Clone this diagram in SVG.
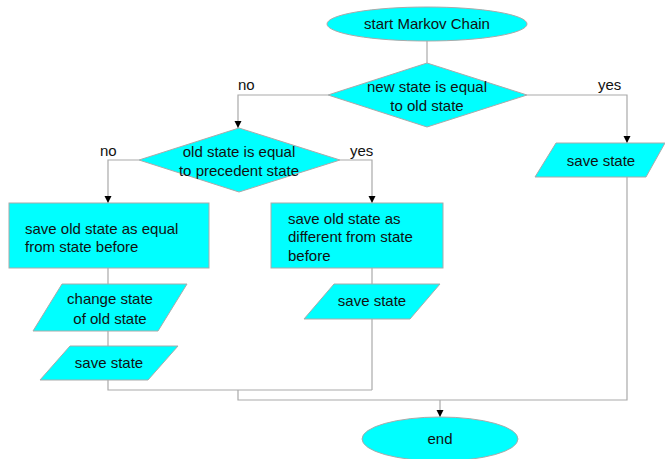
<svg xmlns="http://www.w3.org/2000/svg" width="665" height="459" viewBox="0 0 665 459">
<defs>
<style>
.n{fill:#00ffff;stroke:#aaaaaa;stroke-width:1}
.t{font-family:"Liberation Sans",Arial,sans-serif;font-size:15px;fill:#111}
.c{fill:none;stroke:#aaaaaa;stroke-width:1.2}
.m{text-anchor:middle}
</style>
<marker id="ah" viewBox="0 0 10 10" refX="10" refY="5" markerWidth="7" markerHeight="10" markerUnits="userSpaceOnUse" orient="auto">
<path d="M0,0 L10,5 L0,10 z" fill="#000"/>
</marker>
</defs>
<rect width="665" height="459" fill="#fff"/>
<g id="connectors">
<path class="c" d="M427,41 V63"/>
<path class="c" d="M328,95 H238 V128" marker-end="url(#ah)"/>
<path class="c" d="M527,95 H627 V143" marker-end="url(#ah)"/>
<path class="c" d="M139,160 H108 V203" marker-end="url(#ah)"/>
<path class="c" d="M340,160 H372 V203" marker-end="url(#ah)"/>
<path class="c" d="M108,268 V390 H372"/>
<path class="c" d="M372,268 V390"/>
<path class="c" d="M627,177 V400 H238 V390"/>
<path class="c" d="M440,400 V417" marker-end="url(#ah)"/>
<text class="t" x="238" y="90">no</text>
<text class="t" x="598" y="90">yes</text>
<text class="t" x="100" y="156">no</text>
<text class="t" x="350" y="156">yes</text>
</g>
<g id="start">
<ellipse class="n" cx="427" cy="24" rx="100" ry="17"/>
<text class="t m" x="427" y="29">start Markov Chain</text>
</g>
<g id="decision1">
<polygon class="n" points="427,63 527,95 427,127 328,95"/>
<text class="t m" x="427" y="92">new state is equal</text>
<text class="t m" x="427" y="111">to old state</text>
</g>
<g id="save_state_right">
<polygon class="n" points="556,143 665,143 646,177 535,177"/>
<text class="t m" x="601" y="166">save state</text>
</g>
<g id="decision2">
<polygon class="n" points="239,128 340,160 239,192 139,160"/>
<text class="t m" x="239" y="157">old state is equal</text>
<text class="t m" x="239" y="176">to precedent state</text>
</g>
<g id="save_equal">
<rect class="n" x="9" y="203" width="200" height="65"/>
<text class="t" x="25" y="234">save old state as equal</text>
<text class="t" x="25" y="252">from state before</text>
</g>
<g id="save_different">
<rect class="n" x="271" y="203" width="172" height="65"/>
<text class="t" x="288" y="224">save old state as</text>
<text class="t" x="288" y="242">different from state</text>
<text class="t" x="288" y="261">before</text>
</g>
<g id="change_state">
<polygon class="n" points="62,284 187,284 158,331 33,331"/>
<text class="t m" x="110" y="304">change state</text>
<text class="t m" x="110" y="324">of old state</text>
</g>
<g id="save_state_left">
<polygon class="n" points="70,346 178,346 148,380 40,380"/>
<text class="t m" x="109" y="368">save state</text>
</g>
<g id="save_state_mid">
<polygon class="n" points="334,284 440,284 410,319 304,319"/>
<text class="t m" x="372" y="306">save state</text>
</g>
<g id="end">
<ellipse class="n" cx="440" cy="439" rx="78" ry="22"/>
<text class="t m" x="440" y="444">end</text>
</g>
</svg>
